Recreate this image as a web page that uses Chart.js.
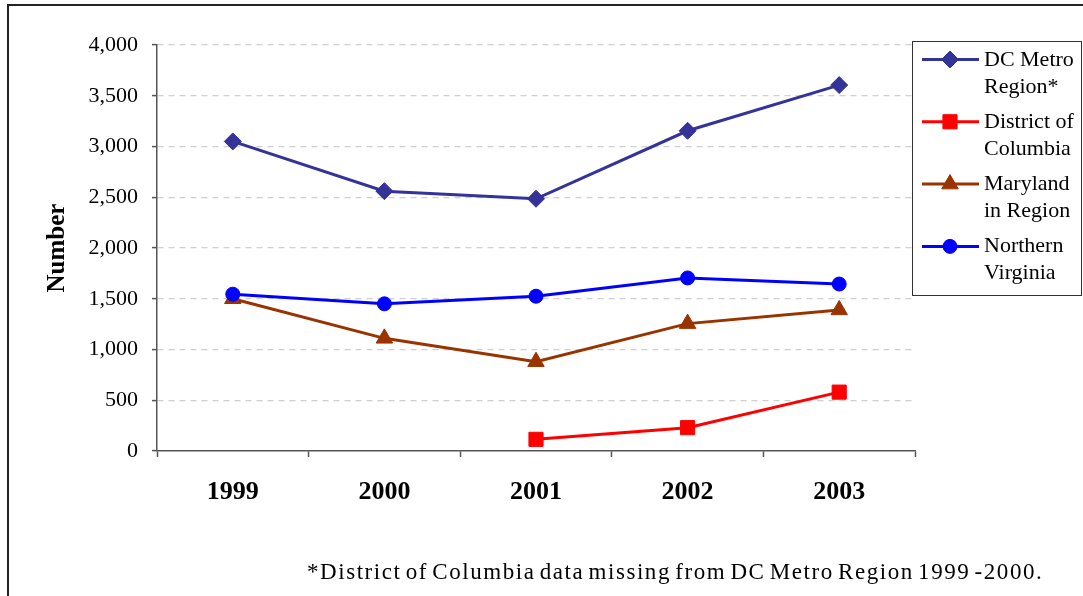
<!DOCTYPE html>
<html>
<head>
<meta charset="utf-8">
<script src="https://cdn.jsdelivr.net/npm/chart.js@4/dist/chart.umd.min.js"></script>
<style>
  html, body { margin: 0; padding: 0; background: #fff; }
  canvas { display: block; }
</style>
</head>
<body>
<canvas id="chart" width="1083" height="596"></canvas>
<script>
// Categories and series values
const years = ['1999', '2000', '2001', '2002', '2003'];
const dcMetroRegion = [3050, 2560, 2485, 3155, 3605];
const districtOfColumbia = [null, null, 115, 230, 580];
const marylandInRegion = [1500, 1110, 880, 1255, 1390];
const northernVirginia = [1545, 1450, 1525, 1705, 1645];

// Legend entries (two lines each) and axis settings
const seriesNames = [
  ['DC Metro', 'Region*'],
  ['District of', 'Columbia'],
  ['Maryland', 'in Region'],
  ['Northern', 'Virginia']
];
const yAxisTitle = 'Number';
const yMin = 0, yMax = 4000, yStep = 500;
const footnote = '*District of Columbia data missing from DC Metro Region 1999 -2000.';

const serif = '"Liberation Serif", "Times New Roman", serif';

function series(label, data, color, style, radius, order) {
  return {
    label: label,
    data: data,
    borderColor: color,
    backgroundColor: color,
    pointBackgroundColor: color,
    pointBorderColor: color,
    pointStyle: style,
    pointRadius: radius,
    pointHoverRadius: radius,
    pointBorderWidth: 1,
    borderWidth: 3,
    tension: 0,
    order: order
  };
}

// Legend box, footnote and outer frame
const decorations = {
  id: 'decorations',
  afterDraw(chart) {
    const ctx = chart.ctx;
    ctx.save();

    // outer frame
    ctx.strokeStyle = '#222';
    ctx.lineWidth = 2;
    ctx.strokeRect(8, 5, 2000, 2000);

    // legend box
    ctx.strokeStyle = '#333';
    ctx.lineWidth = 1;
    ctx.strokeRect(912.5, 41.5, 169, 254);

    ctx.font = '22px ' + serif;
    ctx.fillStyle = '#000';
    ctx.textAlign = 'left';
    ctx.textBaseline = 'alphabetic';
    chart.data.datasets.forEach((ds, i) => {
      const y = 59.5 + i * 62.3;
      ctx.strokeStyle = ds.borderColor;
      ctx.lineWidth = 3;
      ctx.beginPath();
      ctx.moveTo(922, y);
      ctx.lineTo(979, y);
      ctx.stroke();
      ctx.fillStyle = ds.backgroundColor;
      ctx.strokeStyle = ds.borderColor;
      ctx.lineWidth = ds.pointBorderWidth;
      Chart.helpers.drawPoint(ctx, {
        pointStyle: ds.pointStyle,
        radius: ds.pointRadius,
        rotation: 0,
        borderWidth: ds.pointBorderWidth
      }, 950, y);
      ctx.fillStyle = '#000';
      const lines = Array.isArray(ds.label) ? ds.label : [ds.label];
      lines.forEach((t, k) => ctx.fillText(t, 984, 65.5 + i * 62.3 + k * 27));
    });

    // footnote: slightly loose letters, tight word gaps, spanning 307..1043
    ctx.font = '23px ' + serif;
    ctx.fillStyle = '#000';
    if ('wordSpacing' in ctx) ctx.wordSpacing = '-3px';
    const w0 = ctx.measureText(footnote).width;
    const extra = (736 - w0) / footnote.length;
    if ('letterSpacing' in ctx) {
      ctx.letterSpacing = extra.toFixed(2) + 'px';
      ctx.fillText(footnote, 307, 578.5);
    } else {
      ctx.translate(307, 578.5);
      ctx.scale(736 / w0, 1);
      ctx.fillText(footnote, 0, 0);
    }
    ctx.restore();
  }
};

new Chart(document.getElementById('chart'), {
  type: 'line',
  data: {
    labels: years,
    datasets: [
      series(seriesNames[0], dcMetroRegion, '#333399', 'rectRot', 8.5, 1),
      series(seriesNames[1], districtOfColumbia, '#FF0000', 'rect', 10, 2),
      series(seriesNames[2], marylandInRegion, '#993300', 'triangle', 9.5, 3),
      series(seriesNames[3], northernVirginia, '#0000FF', 'circle', 7, 0)
    ]
  },
  options: {
    responsive: false,
    animation: false,
    events: [],
    layout: { padding: { left: 0, top: 45, right: 168, bottom: 0 } },
    plugins: {
      legend: { display: false },
      tooltip: { enabled: false }
    },
    scales: {
      x: {
        type: 'category',
        offset: true,
        afterFit(scale) { scale.height = 145; },
        grid: {
          offset: true,
          drawOnChartArea: false,
          tickLength: 6,
          tickColor: '#555',
          tickWidth: 1.5
        },
        border: { color: '#555', width: 1.5 },
        ticks: {
          color: '#000',
          padding: 20,
          maxRotation: 0,
          font: { family: serif, size: 26, weight: 'bold' }
        }
      },
      y: {
        min: yMin,
        max: yMax,
        afterFit(scale) { scale.width = 157; },
        grid: {
          color: (c) => (c.tick && c.tick.value === yMin ? 'rgba(0,0,0,0)' : '#d0d0d0'),
          lineWidth: 1.2,
          tickBorderDash: [],
          tickLength: 5,
          tickColor: '#555',
          tickWidth: 1.5
        },
        border: { color: '#555', width: 1.5, dash: [6, 5] },
        ticks: {
          stepSize: yStep,
          color: '#000',
          padding: 14,
          font: { family: serif, size: 22 },
          callback: (v) => Number(v).toLocaleString('en-US')
        },
        title: {
          display: true,
          text: yAxisTitle,
          color: '#000',
          padding: { top: 43, bottom: 0 },
          font: { family: serif, size: 25, weight: 'bold' }
        }
      }
    }
  },
  plugins: [decorations]
});
</script>
</body>
</html>
